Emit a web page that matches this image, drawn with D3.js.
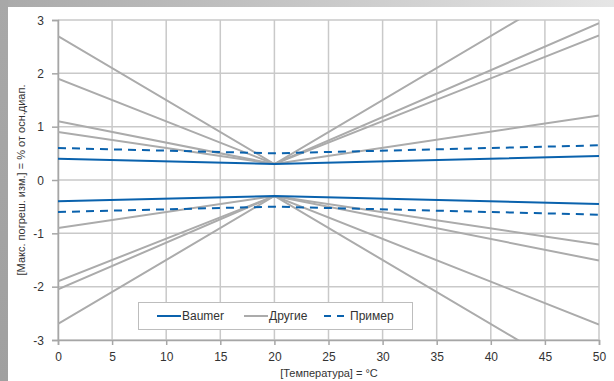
<!DOCTYPE html>
<html>
<head>
<meta charset="utf-8">
<script src="https://cdn.jsdelivr.net/npm/d3@7"></script>
<style>
  html, body { margin: 0; padding: 0; background: #fff; }
  svg { display: block; font-family: "Liberation Sans", Arial, sans-serif; }
</style>
</head>
<body>
<div id="chart"></div>
<script>
// data
const temps = [0, 20, 50];
const baumerUpper = [0.4, 0.3, 0.45];
const baumerLower = [-0.4, -0.3, -0.45];
const primerUpper = [0.6, 0.5, 0.65];
const primerLower = [-0.6, -0.5, -0.65];
const others = [
  [2.7, 0.3, 3.9],
  [1.9, 0.3, 2.94],
  [1.1, 0.3, 2.71],
  [0.9, 0.3, 1.21],
  [-0.9, -0.3, -1.21],
  [-1.9, -0.3, -1.51],
  [-2.05, -0.3, -2.71],
  [-2.7, -0.3, -3.9]
];
const xTicks = [0, 5, 10, 15, 20, 25, 30, 35, 40, 45, 50];
const yTicks = [-3, -2, -1, 0, 1, 2, 3];
const legendItems = ["Baumer", "Другие", "Пример"];

const W = 614, H = 381;
const blue = "#0a62ad", gray = "#ababab", grid = "#c9c9c9";

const svg = d3.select("#chart").append("svg")
  .attr("width", W).attr("height", H);

const defs = svg.append("defs");
const gTop = defs.append("linearGradient").attr("id", "topg");
gTop.append("stop").attr("offset", "0%").attr("stop-color", "#a9a9a9");
gTop.append("stop").attr("offset", "100%").attr("stop-color", "#e6e6e6");
const gLeft = defs.append("linearGradient").attr("id", "leftg")
  .attr("x1", 0).attr("x2", 0).attr("y1", 0).attr("y2", 1);
gLeft.append("stop").attr("offset", "0%").attr("stop-color", "#a8a8a8");
gLeft.append("stop").attr("offset", "100%").attr("stop-color", "#a0a0a0");

// frame
svg.append("rect").attr("width", W).attr("height", 7).attr("fill", "url(#topg)");
svg.append("rect").attr("width", 8).attr("height", H).attr("fill", "url(#leftg)");

const x = d3.scaleLinear().domain([0, 50]).range([58, 599]);
const y = d3.scaleLinear().domain([-3, 3]).range([340, 20]);

defs.append("clipPath").attr("id", "plotclip")
  .append("rect").attr("x", x(0)).attr("y", y(3))
  .attr("width", x(50) - x(0)).attr("height", y(-3) - y(3));

// grid
svg.append("g").selectAll("line").data(xTicks).join("line")
  .attr("x1", d => x(d)).attr("x2", d => x(d))
  .attr("y1", y(3)).attr("y2", y(-3))
  .attr("stroke", grid).attr("stroke-width", 1.5);
svg.append("g").selectAll("line").data(yTicks).join("line")
  .attr("x1", x(0)).attr("x2", x(50))
  .attr("y1", d => y(d)).attr("y2", d => y(d))
  .attr("stroke", grid).attr("stroke-width", 1.5);

// axes
const yAxis = svg.append("g")
  .attr("transform", "translate(" + x(0) + ",0)")
  .call(d3.axisLeft(y).tickValues(yTicks).tickFormat(d => String(d))
    .tickSize(6).tickPadding(8));
const xAxis = svg.append("g")
  .attr("transform", "translate(0," + y(-3) + ")")
  .call(d3.axisBottom(x).tickValues(xTicks).tickFormat(d => String(d))
    .tickSize(5).tickPadding(7));
[xAxis, yAxis].forEach(a => {
  a.select(".domain").attr("stroke", "#a6a6a6").attr("stroke-width", 1.5);
  a.selectAll(".tick line").attr("stroke", "#a6a6a6").attr("stroke-width", 1.5);
  a.selectAll(".tick text").attr("fill", "#333").attr("font-size", 12)
    .attr("font-family", "Liberation Sans, Arial, sans-serif");
});
yAxis.selectAll(".tick text").attr("dy", "0.35em");

// series
const line = d3.line().x((d, i) => x(temps[i])).y(d => y(d));
const plot = svg.append("g").attr("clip-path", "url(#plotclip)");

plot.selectAll(".other").data(others).join("path")
  .attr("class", "other")
  .attr("d", line).attr("fill", "none")
  .attr("stroke", gray).attr("stroke-width", 2);

plot.selectAll(".baumer").data([baumerUpper, baumerLower]).join("path")
  .attr("class", "baumer")
  .attr("d", line).attr("fill", "none")
  .attr("stroke", blue).attr("stroke-width", 2);

plot.selectAll(".primer").data([primerUpper, primerLower]).join("path")
  .attr("class", "primer")
  .attr("d", line).attr("fill", "none")
  .attr("stroke", blue).attr("stroke-width", 2)
  .attr("stroke-dasharray", "8,6");

// axis titles
svg.append("text")
  .attr("x", 329).attr("y", 377)
  .attr("text-anchor", "middle").attr("font-size", 11).attr("fill", "#333")
  .text("[Температура] = °C");
svg.append("text")
  .attr("transform", "translate(25,180) rotate(-90)")
  .attr("text-anchor", "middle").attr("font-size", 11).attr("fill", "#333")
  .text("[Макс. погреш. изм.] = % от осн.диап.");

// legend
const lg = svg.append("g");
lg.append("rect").attr("x", 138.5).attr("y", 302.5).attr("width", 274).attr("height", 27)
  .attr("fill", "#fff").attr("stroke", "#bdbdbd").attr("stroke-width", 1);
const legendX = [157, 244, 324];
const legendStyle = [
  { c: blue, dash: null },
  { c: gray, dash: null },
  { c: blue, dash: "7,6" }
];
legendItems.forEach((name, i) => {
  lg.append("line")
    .attr("x1", legendX[i]).attr("x2", legendX[i] + 24)
    .attr("y1", 316).attr("y2", 316)
    .attr("stroke", legendStyle[i].c).attr("stroke-width", 2)
    .attr("stroke-dasharray", legendStyle[i].dash);
  lg.append("text")
    .attr("x", legendX[i] + (i === 2 ? 26 : 25)).attr("y", 320)
    .attr("font-size", 12).attr("fill", "#333")
    .text(name);
});
</script>
</body>
</html>
